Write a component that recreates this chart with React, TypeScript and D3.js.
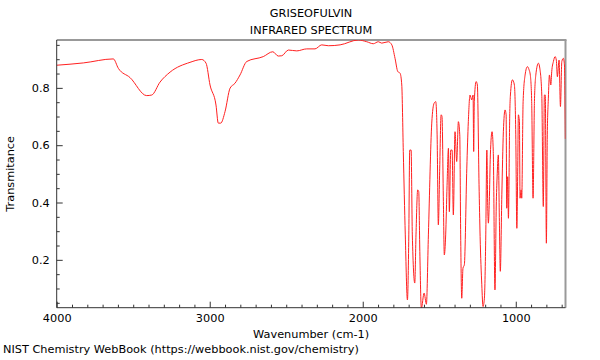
import * as d3 from "d3";
import { useEffect, useRef } from "react";

// spectrum: [wavenumber cm-1, transmittance]
const wavenumbers = [
  4000, 3826, 3630, 3597, 3521, 3412, 3379, 3325, 3259, 3129, 3052, 3024, 2998, 2959, 2944, 2928,
  2900, 2867, 2835, 2802, 2758, 2650, 2588, 2552, 2529, 2486, 2431, 2366, 2312, 2268, 2225, 2148,
  2029, 1974, 1931, 1898, 1876, 1833, 1810, 1789, 1771, 1756, 1745, 1735, 1722, 1708, 1699, 1693,
  1684, 1676, 1660, 1652, 1641, 1634, 1627, 1617, 1599, 1584, 1571, 1549, 1534, 1523, 1514, 1506,
  1497, 1488, 1482, 1473, 1467, 1458, 1449, 1440, 1434, 1425, 1416, 1408, 1397, 1386, 1375, 1366,
  1360, 1353, 1345, 1336, 1320, 1310, 1299, 1288, 1279, 1275, 1271, 1259, 1251, 1240, 1233, 1222,
  1214, 1205, 1196, 1189, 1183, 1179, 1173, 1166, 1155, 1147, 1136, 1127, 1121, 1114, 1107, 1101,
  1091, 1081, 1070, 1063, 1059, 1053, 1048, 1039, 1035, 1022, 1009, 1000, 993, 987, 983, 976,
  972, 965, 961, 952, 939, 924, 913, 905, 896, 887, 878, 869, 852, 843, 830, 820,
  813, 807, 800, 794, 787, 780, 771, 765, 754, 743, 735, 728, 717, 708, 699, 689,
  682, 676,
];
const transmittance = [
  0.879, 0.887, 0.901, 0.868, 0.836, 0.773, 0.775, 0.82, 0.855, 0.889, 0.899, 0.886, 0.81, 0.74, 0.677, 0.677,
  0.717, 0.799, 0.816, 0.845, 0.892, 0.909, 0.926, 0.911, 0.912, 0.932, 0.929, 0.936, 0.936, 0.95, 0.947, 0.95,
  0.967, 0.961, 0.954, 0.961, 0.956, 0.961, 0.95, 0.903, 0.857, 0.851, 0.81, 0.578, 0.287, 0.06, 0.287, 0.583,
  0.583, 0.287, 0.119, 0.287, 0.444, 0.438, 0.229, 0.031, 0.084, 0.045, 0.287, 0.677, 0.746, 0.752, 0.636, 0.322,
  0.52, 0.706, 0.7, 0.403, 0.217, 0.287, 0.459, 0.589, 0.368, 0.583, 0.583, 0.357, 0.647, 0.543, 0.682, 0.636,
  0.287, 0.066, 0.171, 0.183, 0.52, 0.682, 0.775, 0.758, 0.775, 0.578, 0.752, 0.822, 0.81, 0.462, 0.281, 0.113,
  0.037, 0.066, 0.287, 0.583, 0.38, 0.328, 0.403, 0.566, 0.647, 0.578, 0.095, 0.403, 0.502, 0.566, 0.333, 0.16,
  0.427, 0.647, 0.723, 0.706, 0.38, 0.49, 0.345, 0.717, 0.775, 0.828, 0.81, 0.636, 0.31, 0.523, 0.706, 0.682,
  0.415, 0.444, 0.415, 0.752, 0.845, 0.874, 0.863, 0.845, 0.752, 0.415, 0.752, 0.845, 0.886, 0.869, 0.775, 0.386,
  0.775, 0.775, 0.258, 0.636, 0.764, 0.845, 0.81, 0.857, 0.892, 0.909, 0.897, 0.839, 0.897, 0.735, 0.892, 0.903,
  0.88, 0.622,
];

const xMajor = [4000, 3000, 2000, 1000];
const yMajor = [0.2, 0.4, 0.6, 0.8];

const titleLines = ["GRISEOFULVIN", "INFRARED SPECTRUM"];

export default function App() {
  const ref = useRef<SVGSVGElement>(null);

  useEffect(() => {
    const svg = d3.select(ref.current);
    svg.selectAll("*").remove();

    const left = 56.7, right = 565.5, top = 40, bottom = 307.7;
    const font = "DejaVu Sans, sans-serif";
    const fs = 11.3;

    const X = d3.scaleLinear().domain([4000, 675]).range([left, right]);
    const Y = d3.scaleLinear().domain([0.033, 0.967]).range([bottom, top]);

    const xMinor = d3.range(700, 4000, 100).filter((v) => !xMajor.includes(v));
    const yMinor = d3.range(0.05, 0.96, 0.05).filter((v) => !yMajor.some((m) => Math.abs(m - v) < 1e-6));

    svg.append("clipPath").attr("id", "plotClip")
      .append("rect").attr("x", left).attr("y", top).attr("width", right - left).attr("height", bottom - top);

    // frame: grey top and right
    svg.append("line").attr("x1", left).attr("x2", right + 1).attr("y1", top).attr("y2", top)
      .attr("stroke", "#999").attr("stroke-width", 2);
    svg.append("line").attr("x1", right).attr("x2", right).attr("y1", top).attr("y2", bottom)
      .attr("stroke", "#999").attr("stroke-width", 2);

    // spectrum
    const pts: [number, number][] = wavenumbers.map((w, i) => [w, transmittance[i]]);
    const line = d3.line<[number, number]>()
      .x((d) => X(d[0]))
      .y((d) => Y(d[1]))
      .curve(d3.curveMonotoneX);

    svg.append("path")
      .datum(pts)
      .attr("d", line)
      .attr("clip-path", "url(#plotClip)")
      .attr("fill", "none")
      .attr("stroke", "#ff2020")
      .attr("stroke-width", 1);

    // bottom axis, ticks pointing inward
    const gx = svg.append("g").attr("transform", `translate(0,${bottom})`);
    gx.call(d3.axisBottom(X).tickValues(xMinor).tickSizeInner(-3).tickSizeOuter(0).tickFormat(() => ""));
    const gx2 = svg.append("g").attr("transform", `translate(0,${bottom})`);
    gx2.call(d3.axisBottom(X).tickValues(xMajor).tickSizeInner(-6).tickSizeOuter(0).tickPadding(6).tickFormat(d3.format("d")));
    gx2.select(".domain").remove();
    gx.select(".domain").attr("d", `M${left},0H${right}`).attr("stroke", "#333");

    // left axis, ticks pointing inward
    const gy = svg.append("g").attr("transform", `translate(${left},0)`);
    gy.call(d3.axisLeft(Y).tickValues(yMinor).tickSizeInner(-3).tickSizeOuter(0).tickFormat(() => ""));
    const gy2 = svg.append("g").attr("transform", `translate(${left},0)`);
    gy2.call(d3.axisLeft(Y).tickValues(yMajor).tickSizeInner(-6).tickSizeOuter(0).tickPadding(7).tickFormat(d3.format(".1f")));
    gy2.select(".domain").remove();
    gy.select(".domain").attr("d", `M0,${top}V${bottom}`).attr("stroke", "#333");

    svg.selectAll(".tick line").attr("stroke", "#333");
    svg.selectAll(".tick text").attr("font-size", fs).attr("font-family", font).attr("fill", "#000");

    // titles
    svg.selectAll(".title").data(titleLines).join("text")
      .attr("class", "title")
      .attr("x", (left + right) / 2)
      .attr("y", (d, i) => 17 + i * 17)
      .attr("text-anchor", "middle")
      .attr("font-size", fs)
      .attr("font-family", font)
      .text((d) => d);

    svg.append("text").text("Wavenumber (cm-1)")
      .attr("x", (left + right) / 2).attr("y", 337.5)
      .attr("text-anchor", "middle").attr("font-size", fs).attr("font-family", font);

    svg.append("text").text("Transmitance")
      .attr("transform", `translate(14,${(top + bottom) / 2}) rotate(-90)`)
      .attr("text-anchor", "middle").attr("font-size", fs).attr("font-family", font);

    svg.append("text").text("NIST Chemistry WebBook (https://webbook.nist.gov/chemistry)")
      .attr("x", 3).attr("y", 353).attr("font-size", fs).attr("font-family", font);
  }, []);

  return (
    <div style={{ position: "absolute", left: 0, top: 0 }}>
      <svg ref={ref} width={600} height={360} style={{ display: "block", background: "#fff" }} />
    </div>
  );
}
